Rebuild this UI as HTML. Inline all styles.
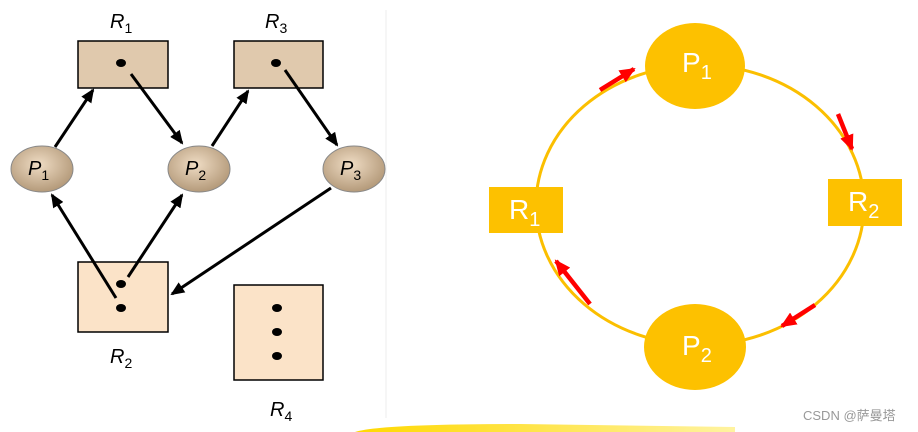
<!DOCTYPE html>
<html><head><meta charset="utf-8"><style>
html,body{margin:0;padding:0;background:#fff;}
svg{display:block}
</style></head><body>
<svg width="918" height="432" viewBox="0 0 918 432" xmlns="http://www.w3.org/2000/svg">
<defs>
<marker id="ab" markerWidth="14" markerHeight="12" refX="12" refY="6" orient="auto" markerUnits="userSpaceOnUse"><path d="M0,0 L14,6 L0,12 z" fill="#000"/></marker>
<marker id="ar" markerWidth="16" markerHeight="14" refX="14" refY="7" orient="auto" markerUnits="userSpaceOnUse"><path d="M0,0 L16,7 L0,14 z" fill="#f00"/></marker>
<radialGradient id="pg" cx="0.45" cy="0.4" r="0.6"><stop offset="0" stop-color="#efdcc4"/><stop offset="1" stop-color="#b49a7a"/></radialGradient>
<linearGradient id="yl" x1="0" x2="1"><stop offset="0" stop-color="#ffd800"/><stop offset="1" stop-color="#fff3a0"/></linearGradient>
</defs>
<line x1="386" y1="10" x2="386" y2="418" stroke="#eee" stroke-width="1"/>
<g font-family="Liberation Sans, sans-serif" font-style="italic" font-size="20" fill="#000">
<text x="110" y="28">R<tspan font-size="14" dy="5" font-style="normal">1</tspan></text>
<text x="265" y="28">R<tspan font-size="14" dy="5" font-style="normal">3</tspan></text>
<text x="110" y="363">R<tspan font-size="14" dy="5" font-style="normal">2</tspan></text>
<text x="270" y="416">R<tspan font-size="14" dy="5" font-style="normal">4</tspan></text>
</g>
<rect x="78" y="41" width="90" height="47" fill="#e0c9ad" stroke="#000" stroke-width="1.5"/>
<rect x="234" y="41" width="89" height="47" fill="#e0c9ad" stroke="#000" stroke-width="1.5"/>
<rect x="78" y="262" width="90" height="70" fill="#fbe3c8" stroke="#000" stroke-width="1.5"/>
<rect x="234" y="285" width="89" height="95" fill="#fbe3c8" stroke="#000" stroke-width="1.5"/>
<g fill="#000">
<ellipse cx="121" cy="63" rx="5" ry="4"/><ellipse cx="276" cy="63" rx="5" ry="4"/>
<ellipse cx="121" cy="284" rx="5" ry="4"/><ellipse cx="121" cy="308" rx="5" ry="4"/>
<ellipse cx="277" cy="308" rx="5" ry="4"/><ellipse cx="277" cy="332" rx="5" ry="4"/><ellipse cx="277" cy="356" rx="5" ry="4"/>
</g>
<g stroke="#888" stroke-width="1" fill="url(#pg)">
<ellipse cx="42" cy="169" rx="31" ry="23"/>
<ellipse cx="199" cy="169" rx="31" ry="23"/>
<ellipse cx="354" cy="169" rx="31" ry="23"/>
</g>
<g font-family="Liberation Sans, sans-serif" font-style="italic" font-size="20" fill="#000">
<text x="28" y="175">P<tspan font-size="14" dy="5" font-style="normal">1</tspan></text>
<text x="185" y="175">P<tspan font-size="14" dy="5" font-style="normal">2</tspan></text>
<text x="340" y="175">P<tspan font-size="14" dy="5" font-style="normal">3</tspan></text>
</g>
<g stroke="#000" stroke-width="3" marker-end="url(#ab)" fill="none">
<line x1="55" y1="147" x2="93" y2="90"/>
<line x1="131" y1="74" x2="182" y2="143"/>
<line x1="212" y1="146" x2="248" y2="91"/>
<line x1="285" y1="70" x2="337" y2="145"/>
<line x1="116" y1="298" x2="52" y2="195"/>
<line x1="128" y1="277" x2="182" y2="195"/>
<line x1="331" y1="188" x2="172" y2="294"/>
</g>
<ellipse cx="700" cy="205" rx="164" ry="140" fill="none" stroke="#fbbf00" stroke-width="3"/>
<ellipse cx="695" cy="66" rx="50" ry="43" fill="#fdc100"/>
<ellipse cx="695" cy="347" rx="51" ry="43" fill="#fdc100"/>
<rect x="489" y="187" width="74" height="46" fill="#fdc100"/>
<rect x="828" y="179" width="74" height="47" fill="#fdc100"/>
<g font-family="Liberation Sans, sans-serif" font-size="28" fill="#fff">
<text x="682" y="72">P<tspan font-size="20" dy="7">1</tspan></text>
<text x="682" y="355">P<tspan font-size="20" dy="7">2</tspan></text>
<text x="509" y="219">R<tspan font-size="20" dy="7">1</tspan></text>
<text x="848" y="211">R<tspan font-size="20" dy="7">2</tspan></text>
</g>
<g stroke="#f00" stroke-width="4.5" marker-end="url(#ar)">
<line x1="600" y1="90" x2="634" y2="69"/>
<line x1="838" y1="114" x2="852" y2="149"/>
<line x1="815" y1="305" x2="782" y2="326"/>
<line x1="590" y1="304" x2="556" y2="261"/>
</g>
<path d="M355,432 Q380,424 520,424 L735,427 L735,432 Z" fill="url(#yl)"/>
<text x="803" y="420" font-family="Liberation Sans, 'Noto Sans CJK SC', sans-serif" font-size="13" fill="#999">CSDN @萨曼塔</text>
</svg>
</body></html>
